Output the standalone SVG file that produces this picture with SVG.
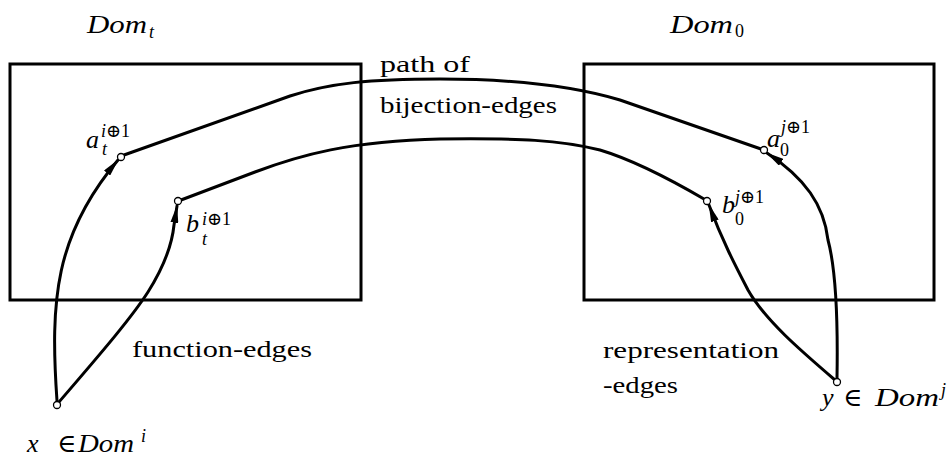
<svg xmlns="http://www.w3.org/2000/svg" width="952" height="463" viewBox="0 0 952 463">
<style>
.box{fill:none;stroke:#000;stroke-width:3}
.edge{fill:none;stroke:#000;stroke-width:3;stroke-linejoin:round;stroke-linecap:round}
.arr{marker-end:url(#ah)}
.pt{fill:#fff;stroke:#000;stroke-width:1.3}
.m{font-style:italic;font-size:26px;fill:#000}
.r{font-size:24px;fill:#000}
.sm{font-size:18px}
.up{font-style:normal}
</style>
<defs>
<marker id="ah" markerUnits="userSpaceOnUse" viewBox="0 0 18 8" refX="17" refY="4" markerWidth="18" markerHeight="8" orient="auto">
<path d="M0,0 L18,4 L0,8 z" fill="#000"/>
</marker>
</defs>
<g id="domt">
<rect class="box" x="10" y="64" width="351" height="236"/>
<text class="m" font-family="Liberation Serif, DejaVu Serif, serif" x="87" y="33"><tspan textLength="60" lengthAdjust="spacingAndGlyphs">Dom</tspan><tspan class="sm" x="149" y="38">t</tspan></text>
</g>
<g id="dom0">
<rect class="box" x="584" y="64" width="350" height="236"/>
<text class="m" font-family="Liberation Serif, DejaVu Serif, serif" x="670" y="33"><tspan textLength="63" lengthAdjust="spacingAndGlyphs">Dom</tspan><tspan class="sm up" x="735" y="37">0</tspan></text>
</g>
<g id="connectors">
<path class="edge" d="M124,155 L290,96 C330,83 370,79 440,79 C510,79 570,85 620,100 L761,149"/>
<path class="edge" d="M181,200 L255,172 C300,155 350,141 440,139 C520,138 560,140 600,150 C640,162 680,185 704,199"/>
<path class="edge arr" d="M57,401 C50,300 55,235 118,160"/>
<path class="edge arr" d="M59,402 C95,360 130,320 148,292 C165,265 172,245 174,225 L177,206"/>
<path class="edge arr" d="M837,378 C838,320 836,270 828,240 C824,205 805,178 767,153"/>
<path class="edge arr" d="M835,380 C800,350 765,320 748,290 C735,265 722,240 709,205"/>
</g>
<g id="labels" font-family="Liberation Serif, DejaVu Serif, serif">
<text class="r" x="380" y="72" textLength="90" lengthAdjust="spacingAndGlyphs">path of</text>
<text class="r" x="380" y="113" textLength="177" lengthAdjust="spacingAndGlyphs">bijection-edges</text>
<text class="r" x="132" y="357" textLength="180" lengthAdjust="spacingAndGlyphs">function-edges</text>
<text class="r" x="603" y="358" textLength="176" lengthAdjust="spacingAndGlyphs">representation</text>
<text class="r" x="603" y="393" textLength="75" lengthAdjust="spacingAndGlyphs">-edges</text>
</g>
<g id="a_t">
<circle class="pt" cx="121" cy="157" r="3.5"/>
<text class="m" font-family="Liberation Serif, DejaVu Serif, serif" x="86" y="148">a<tspan class="sm" x="101" y="137">i</tspan><tspan class="sm up">⊕1</tspan><tspan class="sm" x="102" y="155">t</tspan></text>
</g>
<g id="b_t">
<circle class="pt" cx="178" cy="201" r="3.5"/>
<text class="m" font-family="Liberation Serif, DejaVu Serif, serif" x="186" y="232">b<tspan class="sm" x="202" y="225">i</tspan><tspan class="sm up">⊕1</tspan><tspan class="sm" x="202" y="245">t</tspan></text>
</g>
<g id="a_0">
<circle class="pt" cx="764" cy="150" r="3.5"/>
<text class="m" font-family="Liberation Serif, DejaVu Serif, serif" x="767" y="147">a<tspan class="sm" x="781" y="133">j</tspan><tspan class="sm up">⊕1</tspan><tspan class="sm up" x="780" y="156">0</tspan></text>
</g>
<g id="b_0">
<circle class="pt" cx="707" cy="201" r="3.5"/>
<text class="m" font-family="Liberation Serif, DejaVu Serif, serif" x="722" y="213">b<tspan class="sm" x="735" y="203">j</tspan><tspan class="sm up">⊕1</tspan><tspan class="sm up" x="735" y="225">0</tspan></text>
</g>
<g id="x">
<circle class="pt" cx="57" cy="405" r="3.5"/>
<text class="m" font-family="Liberation Serif, DejaVu Serif, serif" x="27" y="452">x<tspan class="up" x="57">∈</tspan><tspan x="78" textLength="56" lengthAdjust="spacingAndGlyphs">Dom</tspan><tspan class="sm" x="141" y="442">i</tspan></text>
</g>
<g id="y">
<circle class="pt" cx="837" cy="382" r="3.5"/>
<text class="m" font-family="Liberation Serif, DejaVu Serif, serif" x="822" y="406">y<tspan class="up" x="843">∈</tspan><tspan x="875" textLength="64" lengthAdjust="spacingAndGlyphs">Dom</tspan><tspan class="sm" x="941" y="396">j</tspan></text>
</g>
</svg>
